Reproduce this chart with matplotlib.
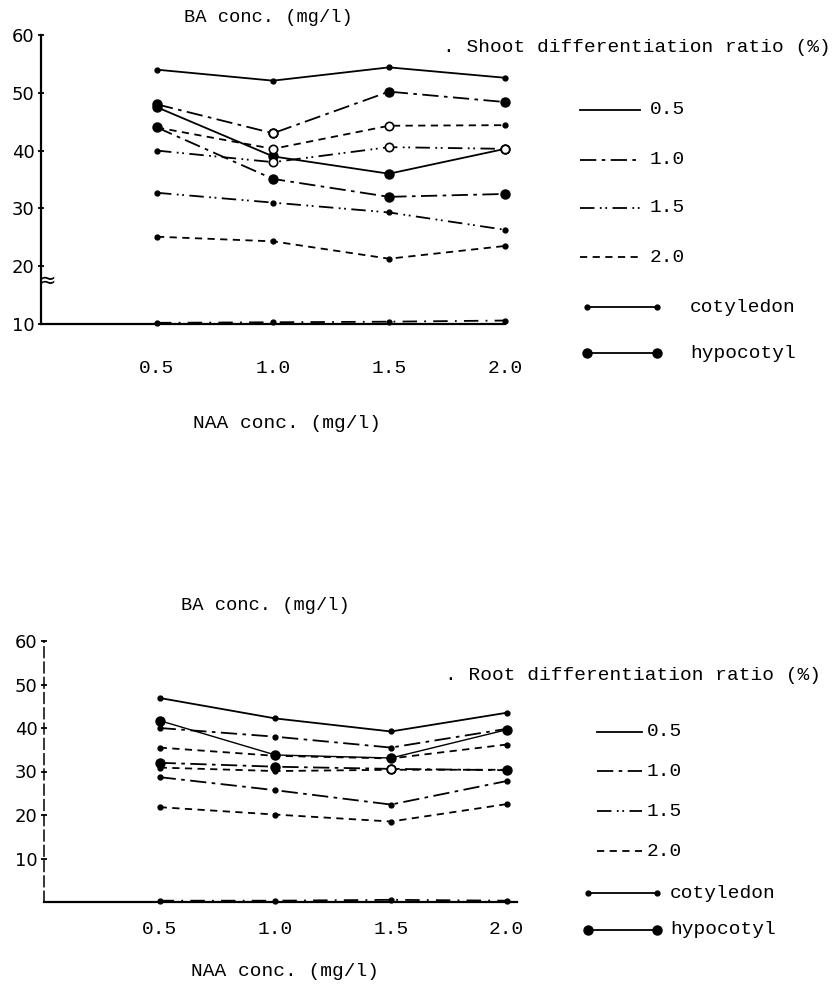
import matplotlib
matplotlib.use("Agg")
import matplotlib.pyplot as plt
from matplotlib.lines import Line2D

# ---------------- data ----------------
naa = [0.5, 1.0, 1.5, 2.0]

# Shoot differentiation ratio (%)
shoot_a = [54.0, 52.1, 54.4, 52.6]
shoot_b = [48.0, 43.0, 50.2, 48.4]
shoot_c = [47.5, 39.0, 36.0, 40.3]
shoot_d = [44.0, 40.3, 44.3, 44.4]
shoot_e = [44.0, 35.1, 32.0, 32.5]
shoot_f = [40.0, 38.0, 40.6, 40.3]
shoot_g = [32.7, 31.0, 29.3, 26.3]
shoot_h = [25.1, 24.3, 21.3, 23.5]
shoot_i = [10.2, 10.3, 10.4, 10.6]

# Root differentiation ratio (%)
root_a = [46.9, 42.2, 39.2, 43.5]
root_b = [41.7, 33.8, 33.1, 39.6]
root_c = [40.0, 38.0, 35.5, 39.8]
root_d = [35.5, 33.6, 33.0, 36.2]
root_e = [32.0, 31.1, 30.6, 30.3]
root_f = [30.9, 30.1, 30.4, 30.4]
root_g = [28.7, 25.7, 22.4, 27.8]
root_h = [21.8, 20.1, 18.5, 22.5]
root_i = [0.3, 0.3, 0.5, 0.3]

ba_levels = ["0.5", "1.0", "1.5", "2.0"]
explants = ["cotyledon", "hypocotyl"]
x_ticklabels = ["0.5", "1.0", "1.5", "2.0"]

# ---------------- styles ----------------
LS = {
    "0.5": "-",
    "1.0": (0, (9, 3, 2, 3)),
    "1.5": (0, (8, 3, 1, 2, 1, 3)),
    "2.0": (0, (4, 3)),
    "dd": (0, (8, 4, 1, 4)),
}
MONO = "Liberation Mono"
W, H = 839, 991

fig = plt.figure(figsize=(W / 100, H / 100), dpi=100)


def fx(px):
    return px / W


def fy(py):
    return 1 - py / H


def axes_px(l, t, r, b):
    return fig.add_axes([fx(l), fy(b), fx(r) - fx(l), fy(t) - fy(b)])


def style_axes(ax, ylim, xlim, yticks, xpad):
    ax.set_xlim(*xlim)
    ax.set_ylim(*ylim)
    for s in ("top", "right"):
        ax.spines[s].set_visible(False)
    for s in ("left", "bottom"):
        ax.spines[s].set_linewidth(1.6)
        ax.spines[s].set_color("black")
    ax.set_yticks(yticks)
    ax.set_yticklabels([str(v) for v in yticks], fontsize=13, family="DejaVu Sans")
    ax.tick_params(axis="y", direction="inout", length=5, width=1.3, pad=2)
    ax.set_xticks(naa)
    ax.set_xticklabels(x_ticklabels, fontsize=14, family=MONO)
    ax.tick_params(axis="x", length=0, pad=xpad)
    ax.patch.set_alpha(0)


def series(ax, y, ls, kind, lw=1.3, hollow=()):
    ms = 3.5 if kind == "cot" else 6.5
    ax.plot(naa, y, color="black", linestyle=ls, linewidth=lw,
            marker="o", markersize=ms, markerfacecolor="black",
            markeredgecolor="black", clip_on=False, zorder=3)
    for i in hollow:
        ax.plot([naa[i]], [y[i]], marker="o", markersize=6, color="black",
                markerfacecolor="white", markeredgewidth=1.2, clip_on=False,
                zorder=4)


# ---------------- top panel ----------------
ax1 = axes_px(41, 35, 505, 324)
style_axes(ax1, (10, 60), (0, 2.0), [10, 20, 30, 40, 50, 60], 26)
series(ax1, shoot_a, LS["0.5"], "cot")
series(ax1, shoot_b, LS["1.0"], "hyp", hollow=(1,))
series(ax1, shoot_c, LS["0.5"], "hyp")
series(ax1, shoot_d, LS["2.0"], "cot", hollow=(1, 2))
series(ax1, shoot_e, LS["1.0"], "hyp")
series(ax1, shoot_f, LS["1.5"], "cot", hollow=(1, 2, 3))
series(ax1, shoot_g, LS["1.5"], "cot")
series(ax1, shoot_h, LS["2.0"], "cot")
series(ax1, shoot_i, LS["dd"], "cot")
ax1.text(0.03, 17.5, "\u2248", fontsize=15, va="center",
         ha="center", family="DejaVu Sans")

fig.text(fx(268), fy(18), "BA conc. (mg/l)", family=MONO, fontsize=13.5,
         ha="center", va="center")
fig.text(fx(287), fy(423), "NAA conc. (mg/l)", family=MONO, fontsize=14,
         ha="center", va="center")
fig.text(fx(443), fy(47), ". Shoot differentiation ratio (%)", family=MONO,
         fontsize=14, ha="left", va="center")

# ---------------- bottom panel ----------------
ax2 = axes_px(44, 641, 517, 902)
style_axes(ax2, (0, 60), (0, 2.045), [10, 20, 30, 40, 50, 60], 14)
ax2.spines["left"].set_linewidth(1.1)
ax2.spines["left"].set_linestyle((0, (7, 3)))
series(ax2, root_a, LS["0.5"], "cot")
series(ax2, root_b, LS["0.5"], "hyp", lw=1.0)
series(ax2, root_c, LS["1.0"], "cot")
series(ax2, root_d, LS["2.0"], "cot")
series(ax2, root_e, LS["1.0"], "hyp", hollow=(2,))
series(ax2, root_f, LS["2.0"], "cot")
series(ax2, root_g, LS["1.0"], "cot")
series(ax2, root_h, LS["2.0"], "cot")
series(ax2, root_i, LS["dd"], "cot")

fig.text(fx(265), fy(605), "BA conc. (mg/l)", family=MONO, fontsize=13.5,
         ha="center", va="center")
fig.text(fx(285), fy(972), "NAA conc. (mg/l)", family=MONO, fontsize=14,
         ha="center", va="center")
fig.text(fx(445), fy(676), ". Root differentiation ratio (%)", family=MONO,
         fontsize=14, ha="left", va="center")


# ---------------- legends (hand placed keys) ----------------
def legend_block(rows, ba_x, ba_tx, ex_x, ex_tx):
    for lab, y in zip(ba_levels, rows[:4]):
        fig.add_artist(Line2D([fx(ba_x[0]), fx(ba_x[1])], [fy(y), fy(y)],
                              color="black", linestyle=LS[lab], linewidth=1.3))
        fig.text(fx(ba_tx), fy(y), lab, family=MONO, fontsize=14,
                 ha="left", va="center")
    for lab, y, ms in zip(explants, rows[4:], (3.5, 6.5)):
        fig.add_artist(Line2D([fx(ex_x[0]), fx(ex_x[1])], [fy(y), fy(y)],
                              color="black", linewidth=1.3, marker="o",
                              markersize=ms, markevery=[0, 1]))
        fig.text(fx(ex_tx), fy(y), lab, family=MONO, fontsize=14,
                 ha="left", va="center")


legend_block([110, 160, 208, 257, 307, 353], (580, 640), 650, (587, 657), 690)
legend_block([732, 771, 811, 851, 893, 930], (597, 642), 647, (588, 657), 670)

fig.savefig("out.png", dpi=100)
